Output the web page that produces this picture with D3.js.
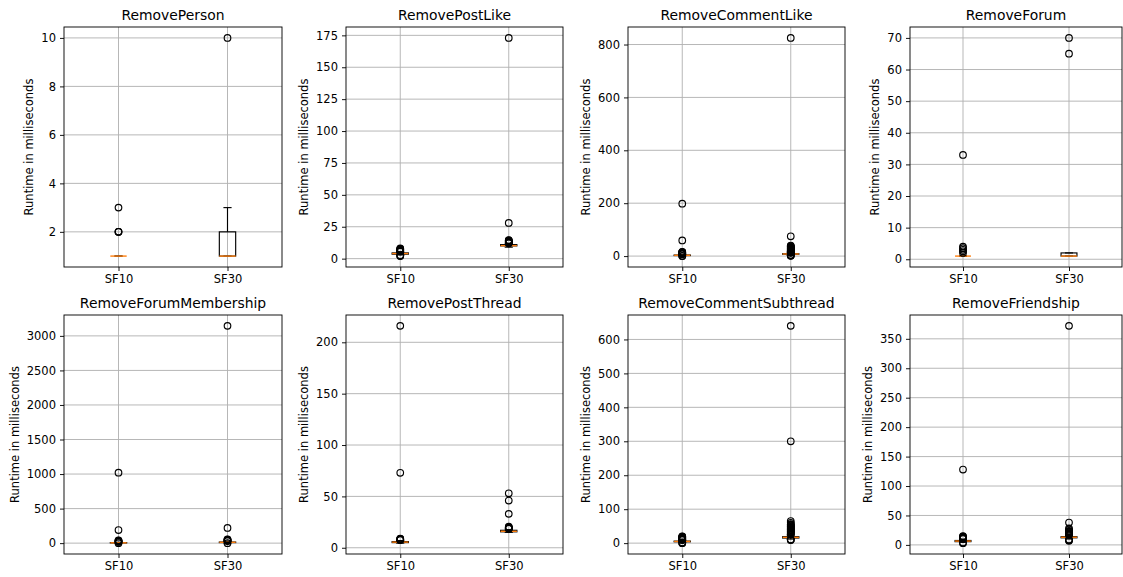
<!DOCTYPE html>
<html>
<head>
<meta charset="utf-8">
<script src="https://cdn.jsdelivr.net/npm/d3@7"></script>
<style>
  html, body { margin: 0; padding: 0; background: #fff; }
  svg { display: block; }
  text { font-family: "DejaVu Sans", sans-serif; fill: #000; }
</style>
</head>
<body>
<svg id="chart" width="1123" height="577"></svg>
<script>
// ---- data ----
const titles = ["RemovePerson", "RemovePostLike", "RemoveCommentLike", "RemoveForum",
                "RemoveForumMembership", "RemovePostThread", "RemoveCommentSubthread", "RemoveFriendship"];
const categories = ["SF10", "SF30"];
const yLabel = "Runtime in milliseconds";

// per panel: [SF10, SF30]
const q1s        = [[1, 1], [3.5, 10], [2, 7], [1, 1], [3, 8], [5, 15.5], [4, 15], [5.5, 12]];
const medians    = [[1, 1], [4, 10.2], [3, 8], [1, 1], [5, 12], [5.5, 16], [5, 17], [6.5, 13]];
const q3s        = [[1, 2], [4.5, 11], [4, 9], [1, 2], [8, 16], [6, 17], [6, 19], [7.5, 14]];
const whiskerLow = [[1, 1], [3, 9], [1, 5], [1, 1], [1, 3], [4.5, 15], [3, 12], [4.5, 10]];
const whiskerHigh= [[1, 3], [5, 11.5], [6, 11], [1, 2], [14, 26], [7, 17.5], [8, 24], [9, 16]];
const outliers = [
  [[2, 2, 2, 3], [10]],
  [[2, 2.3, 2.6, 5.5, 5.8, 6, 6.3, 6.6, 7, 7.3, 7.6, 8], [12, 12.3, 12.6, 13, 13.3, 13.6, 14, 14.3, 14.6, 28, 173]],
  [[0, 0.5, 7, 8, 9, 10, 11, 12, 13, 14, 15, 16, 59, 198],
   [1, 2, 3, 4, 12, 13, 14, 15, 16, 17, 18, 19, 20, 22, 24, 26, 28, 30, 32, 34, 36, 38, 40, 75, 825]],
  [[2, 2.5, 3, 3.5, 4, 33], [65, 70]],
  [[0, 18, 22, 26, 30, 35, 40, 190, 1020], [0, 30, 35, 40, 45, 50, 55, 220, 3145]],
  [[7.5, 7.8, 8, 8.3, 8.6, 9, 73, 216], [18.5, 18.8, 19, 19.3, 19.6, 20, 20.5, 33, 46, 53]],
  [[0, 1, 2, 9, 10, 11, 12, 13, 14, 15, 16, 17, 18, 19, 20],
   [9, 10, 11, 26, 28, 30, 32, 34, 36, 38, 40, 42, 44, 46, 48, 50, 52, 54, 56, 60, 65, 300, 640]],
  [[3, 4, 10, 11, 12, 13, 14, 15, 128], [7, 8, 9, 17, 18, 19, 20, 21, 22, 23, 24, 26, 28, 38, 372]]
];
const yTicks = [
  [2, 4, 6, 8, 10],
  [0, 25, 50, 75, 100, 125, 150, 175],
  [0, 200, 400, 600, 800],
  [0, 10, 20, 30, 40, 50, 60, 70],
  [0, 500, 1000, 1500, 2000, 2500, 3000],
  [0, 50, 100, 150, 200],
  [0, 100, 200, 300, 400, 500, 600],
  [0, 50, 100, 150, 200, 250, 300, 350]
];

// ---- layout ----
const colLeft = [64, 346, 628, 910];
const colRight = [282, 563, 845, 1122];
const rowTop = [27, 315];
const rowBottom = [267, 554];
const px = 1.15; // 1pt in px

const svg = d3.select("#chart");

titles.forEach((title, i) => {
  const col = i % 4, row = Math.floor(i / 4);
  const L = colLeft[col], R = colRight[col], T = rowTop[row], B = rowBottom[row];

  const all = [];
  for (let c = 0; c < 2; c++) {
    all.push(whiskerLow[i][c], whiskerHigh[i][c], ...outliers[i][c]);
  }
  const mn = d3.min(all), mx = d3.max(all), pad = (mx - mn) * 0.05;
  const y = d3.scaleLinear().domain([mn - pad, mx + pad]).range([B, T]);
  const x = d3.scaleLinear().domain([0.5, 2.5]).range([L, R]);

  const g = svg.append("g");

  // grid
  g.selectAll(".hg").data(yTicks[i]).enter().append("line")
    .attr("x1", L).attr("x2", R)
    .attr("y1", d => y(d)).attr("y2", d => y(d))
    .attr("stroke", "#b0b0b0").attr("stroke-width", 0.92);
  g.selectAll(".vg").data(categories).enter().append("line")
    .attr("x1", (d, k) => x(k + 1)).attr("x2", (d, k) => x(k + 1))
    .attr("y1", T).attr("y2", B)
    .attr("stroke", "#b0b0b0").attr("stroke-width", 0.92);

  // boxes
  categories.forEach((cat, c) => {
    const cx = x(c + 1);
    const bw = x(1 + 0.075) - x(1);   // half box width
    const cw = x(1 + 0.0375) - x(1);  // half cap width
    const bg = g.append("g").attr("stroke", "#000").attr("stroke-width", px).attr("fill", "none");
    bg.append("line").attr("x1", cx).attr("x2", cx).attr("y1", y(q1s[i][c])).attr("y2", y(whiskerLow[i][c]));
    bg.append("line").attr("x1", cx).attr("x2", cx).attr("y1", y(q3s[i][c])).attr("y2", y(whiskerHigh[i][c]));
    bg.append("line").attr("x1", cx - cw).attr("x2", cx + cw).attr("y1", y(whiskerLow[i][c])).attr("y2", y(whiskerLow[i][c]));
    bg.append("line").attr("x1", cx - cw).attr("x2", cx + cw).attr("y1", y(whiskerHigh[i][c])).attr("y2", y(whiskerHigh[i][c]));
    bg.append("rect").attr("x", cx - bw).attr("width", 2 * bw)
      .attr("y", y(q3s[i][c])).attr("height", Math.max(0, y(q1s[i][c]) - y(q3s[i][c])));
    g.append("line").attr("x1", cx - bw).attr("x2", cx + bw)
      .attr("y1", y(medians[i][c])).attr("y2", y(medians[i][c]))
      .attr("stroke", "#ff7f0e").attr("stroke-width", 1.4);
    g.selectAll(null).data(outliers[i][c]).enter().append("circle")
      .attr("cx", cx).attr("cy", d => y(d)).attr("r", 3.3)
      .attr("fill", "none").attr("stroke", "#000").attr("stroke-width", px);
  });

  // spines
  g.append("rect").attr("x", L).attr("y", T).attr("width", R - L).attr("height", B - T)
    .attr("fill", "none").attr("stroke", "#000").attr("stroke-width", 0.92);

  // axes
  const ya = d3.axisLeft(y).tickValues(yTicks[i]).tickSize(4).tickPadding(4).tickFormat(d3.format("d"));
  const ay = g.append("g").attr("transform", `translate(${L},0)`).call(ya);
  const xa = d3.axisBottom(x).tickValues([1, 2]).tickSize(4).tickPadding(4).tickFormat((d) => categories[d - 1]);
  const ax = g.append("g").attr("transform", `translate(0,${B})`).call(xa);
  [ay, ax].forEach(a => {
    a.select(".domain").remove();
    a.selectAll(".tick line").attr("stroke", "#000").attr("stroke-width", 0.92);
    a.selectAll(".tick text").attr("font-size", 11.5).attr("font-family", "DejaVu Sans").attr("fill", "#000");
  });

  // title
  g.append("text").attr("x", (L + R) / 2).attr("y", T - 7)
    .attr("text-anchor", "middle").attr("font-size", 13.9).text(title);

  // y label
  const labelX = L - (ay.node().getBBox().width) - 8;
  g.append("text").attr("transform", `translate(${labelX},${(T + B) / 2}) rotate(-90)`)
    .attr("text-anchor", "middle").attr("font-size", 11.5).text(yLabel);
});
</script>
</body>
</html>
